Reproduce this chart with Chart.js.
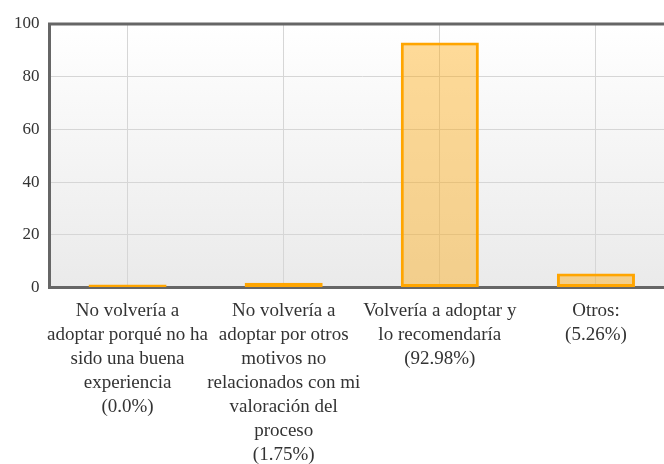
<!DOCTYPE html>
<html><head><meta charset="utf-8">
<script src="https://cdn.jsdelivr.net/npm/chart.js@4/dist/chart.umd.min.js"></script>
<style>html,body{margin:0;padding:0;overflow:hidden;background:#fff}#wrap{width:674px;height:464px;position:relative}</style>
</head><body><div id="wrap"><canvas id="c"></canvas></div>
<script>
const categories = [
  ["No volvería a", "adoptar porqué no ha", "sido una buena", "experiencia", "(0.0%)"],
  ["No volvería a", "adoptar por otros", "motivos no", "relacionados con mi", "valoración del", "proceso", "(1.75%)"],
  ["Volvería a adoptar y", "lo recomendaría", "(92.98%)"],
  ["Otros:", "(5.26%)"]
];
const values = [0, 1.75, 92.98, 5.26];
const yTicks = [0, 20, 40, 60, 80, 100];

const bgPlugin = {
  id: 'bg',
  beforeDraw(chart) {
    const {ctx, chartArea: a} = chart;
    const g = ctx.createLinearGradient(0, a.top, 0, a.bottom);
    g.addColorStop(0, '#ffffff');
    g.addColorStop(1, '#eaeaea');
    ctx.save(); ctx.fillStyle = g; ctx.fillRect(a.left, a.top, a.right - a.left, a.bottom - a.top); ctx.restore();
  },
  afterDraw(chart) {
    const {ctx, chartArea: a} = chart;
    ctx.save(); ctx.strokeStyle = '#666'; ctx.lineWidth = 3;
    ctx.beginPath(); ctx.moveTo(a.left - 1.5, a.top); ctx.lineTo(a.right, a.top); ctx.stroke(); ctx.restore();
  }
};

new Chart(document.getElementById('c'), {
  type: 'bar',
  data: { labels: categories, datasets: [{
    data: values,
    backgroundColor: 'rgba(255,165,0,0.4)',
    borderColor: '#ffa500',
    borderWidth: 3,
    borderSkipped: false,
    minBarLength: 3,
    barPercentage: 0.5,
    categoryPercentage: 1
  }]},
  options: {
    responsive: true, maintainAspectRatio: false, animation: false,
    layout: { padding: { top: 24, left: 4, right: 0, bottom: -15 } },
    plugins: { legend: { display: false }, tooltip: { enabled: false } },
    scales: {
      x: {
        grid: { offset: false, color: '#d6d6d6', lineWidth: 1, drawTicks: false },
        border: { color: '#666', width: 3 },
        ticks: { color: '#333', maxRotation: 0, autoSkip: false, padding: 12,
          font: { family: 'Liberation Serif', size: 19, lineHeight: 1.26 } }
      },
      y: {
        min: 0, max: 100,
        afterBuildTicks(s) { s.ticks = yTicks.map(v => ({ value: v })); },
        grid: { color: '#d6d6d6', lineWidth: 1, drawTicks: false },
        border: { color: '#666', width: 3 },
        ticks: { color: '#333', padding: 10, font: { family: 'Liberation Serif', size: 17 } }
      }
    }
  },
  plugins: [bgPlugin]
});
</script></body></html>
